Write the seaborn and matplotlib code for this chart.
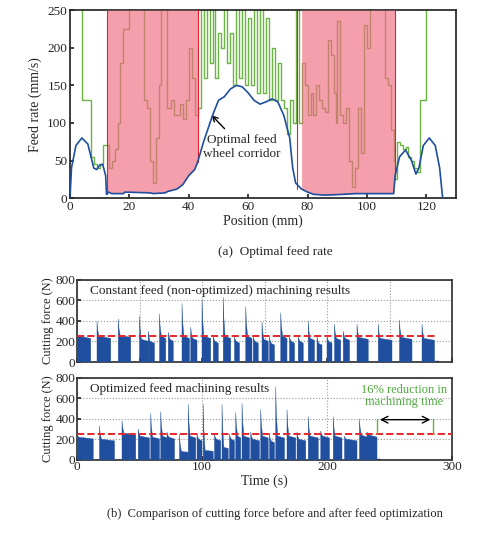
import numpy as np
import matplotlib
matplotlib.use("Agg")
import matplotlib.pyplot as plt
import seaborn as sns

sns.set_theme(style="white")
plt.rcParams['font.family'] = ['Liberation Serif', 'DejaVu Serif']

# --- (a) optimal feed rate ---
blue_x = [0,0.5,2,4,6,8,9,10,11,12,12.3,13,14,18,18.5,27,28,32,33,36,38,40,42,43,45,48,50,52,54,56,58,60,62,64,66,68,70,72,74,75,76,78,80,82,86,92,96,109,109.5,111,113,115,116.5,117.5,119,121,123,124.5,125.5]
blue_y = [0,40,70,80,72,40,38,44,45,30,5,8,6,6,8,7,6,7,9,12,18,30,38,48,75,110,130,135,145,150,148,140,130,125,128,132,128,110,80,40,20,12,8,5,4,5,6,6,30,55,64,50,32,40,70,80,70,40,0]
green_x = [0,4,7,8,9,10,11,12.3,13,14,15,16,17,18,20,25,26,27,28,29,30,30.5,32.5,34,35,37,38,39,40,41,42,43,44,45,46,47,48,49,50,51,52,53,54,55,56,57,58,59,60,61,62,63,64,65,66,67,68,69,70,71,72,73,74,75,76,77,78,79,80,81,82,83,84,85,86,87,88,89,89.5,90,91,92,93,94,95,96,97,98,99,100,101,106,107,108,109,109.5,110,111,112,113,114,115,116,117,118,120,126]
green_y = [260,130,55,45,40,45,70,70,40,50,65,100,180,225,260,130,120,50,20,80,150,260,120,130,110,125,105,130,200,160,110,120,260,160,260,180,260,160,220,200,260,180,220,150,260,160,260,150,240,150,260,140,260,140,240,130,200,130,180,130,120,85,130,100,260,100,180,150,110,140,110,150,130,120,115,210,190,140,100,235,110,100,120,50,15,40,120,60,230,200,260,160,150,90,50,25,75,70,65,68,55,50,40,35,130,260,260]
red_regions = [(12.3, 43), (76.5, 109.5)]

# --- (b) cutting force bursts: (start, end, peak, base) ---
const_bursts = [(0,11,300,250),(16,27,400,250),(33,43,420,260),(50,57,450,220),(57,62,300,200),(66,71,470,250),(73,77,290,220),(84,90,570,250),(91,96,340,230),(100,107,610,250),(109,113,250,200),(117,123,630,250),(126,130,250,200),(135,140,540,250),(141,145,250,200),(148,153,390,220),(154,158,250,180),(163,168,480,250),(170,174,250,200),(177,181,250,200),(185,190,400,230),(192,196,250,180),(200,204,250,200),(206,211,370,230),(213,218,300,230),(224,233,370,240),(241,252,370,230),(258,268,410,240),(276,286,370,230)]
opt_bursts = [(0,13,240,220),(18,30,330,200),(36,47,380,260),(49,58,300,230),(59,66,450,220),(67,72,470,230),(72,78,270,220),(82,89,250,80),(89,95,540,230),(96,100,250,200),(101,109,540,90),(110,115,250,200),(116,121,540,120),(122,126,250,200),(127,131,460,230),(132,138,550,230),(139,146,270,200),(147,153,490,230),(154,158,250,180),(159,166,710,230),(168,175,490,230),(176,183,270,200),(185,193,420,230),(195,202,280,230),(205,212,420,230),(214,224,230,200),(226,232,400,240),(232,240,270,240)]
limit_force = 250

fig = plt.figure(figsize=(5.0, 5.34), dpi=100)
BLUE = '#1f4f9e'
GREEN = '#6cb346'

ax = fig.add_axes([0.14, 0.629, 0.772, 0.352])
ax.step(green_x, green_y, where='post', color=GREEN, lw=1.0, zorder=2)
bx = np.array(blue_x); by = np.array(blue_y)
for a, b in red_regions:
    m = (bx >= a) & (bx <= b)
    ax.fill_between(bx[m], by[m], 250, color='#f06a80', alpha=0.65, lw=0, zorder=3)
    ax.plot([a, a], [by[m][0], 250], color='#e0202a', lw=0.8, zorder=3)
    ax.plot([b, b], [by[m][-1], 250], color='#e0202a', lw=0.8, zorder=3)
ax.plot(bx, by, color=BLUE, lw=1.2, zorder=4)
ax.set_xlim(0, 130); ax.set_ylim(0, 250)
ax.set_xticks([0,20,40,60,80,100,120]); ax.set_yticks([0,50,100,150,200,250])
ax.set_xlabel('Position (mm)', fontsize=10, labelpad=1)
ax.set_ylabel('Feed rate (mm/s)', fontsize=10)
ax.tick_params(labelsize=9.5, pad=2, direction='in', length=3, left=True, bottom=True)
ax.annotate('Optimal feed\nwheel corridor', xy=(47, 113), xytext=(58, 55), ha='center', fontsize=9.5,
            arrowprops=dict(arrowstyle='->', color='black', lw=1))
fig.text(0.55, 0.522, '(a)  Optimal feed rate', ha='center', fontsize=9.5)

def draw_force(ax, bursts, title):
    for s, e, p, b in bursts:
        xs = [s, s, s + 0.4, s + 1.5, e, e]
        ys = [0, p, (p + b) / 2, b, b * 0.92, 0]
        ax.fill(xs, ys, color=BLUE, lw=0.3, zorder=3)
    ax.set_xlim(0, 300); ax.set_ylim(0, 800)
    ax.set_yticks([0, 200, 400, 600, 800])
    ax.grid(True, ls=':', color='#999999', lw=0.8)
    ax.set_ylabel('Cutting force (N)', fontsize=9, labelpad=1)
    ax.text(10, 690, title, fontsize=9.5, va='center')
    ax.tick_params(labelsize=9.5, pad=1, direction='in', length=3, left=True, bottom=True)
    for sp in ax.spines.values():
        sp.set_color('#333333')

ax2 = fig.add_axes([0.154, 0.322, 0.75, 0.154])
draw_force(ax2, const_bursts, 'Constant feed (non-optimized) machining results')
ax2.plot([0, 287], [limit_force, limit_force], color='#e8262b', ls='--', lw=1.4, zorder=4)
ax2.plot([286, 289], [10, 10], color=BLUE, lw=1)
ax2.set_xticklabels([])

ax3 = fig.add_axes([0.154, 0.139, 0.75, 0.154])
draw_force(ax3, opt_bursts, 'Optimized feed machining results')
ax3.plot([0, 300], [limit_force, limit_force], color='#e8262b', ls='--', lw=1.4, zorder=4)
ax3.plot([240, 242], [5, 5], color=BLUE, lw=1)
ax3.set_xticks([0, 100, 200, 300])
ax3.set_xlabel('Time (s)', fontsize=10, labelpad=1)
ax3.plot([240, 240], [250, 400], color=GREEN, lw=1, zorder=5)
ax3.plot([285, 285], [250, 400], color=GREEN, lw=1, zorder=5)
ax3.annotate('', xy=(240, 390), xytext=(285, 390), arrowprops=dict(arrowstyle='<->', color='black', lw=1))
ax3.text(262, 620, '16% reduction in\nmachining time', color='#4caa3c', ha='center', va='center', fontsize=9, linespacing=1.1)
fig.text(0.55, 0.032, '(b)  Comparison of cutting force before and after feed optimization', ha='center', fontsize=9)

fig.savefig('out.png', dpi=100)
